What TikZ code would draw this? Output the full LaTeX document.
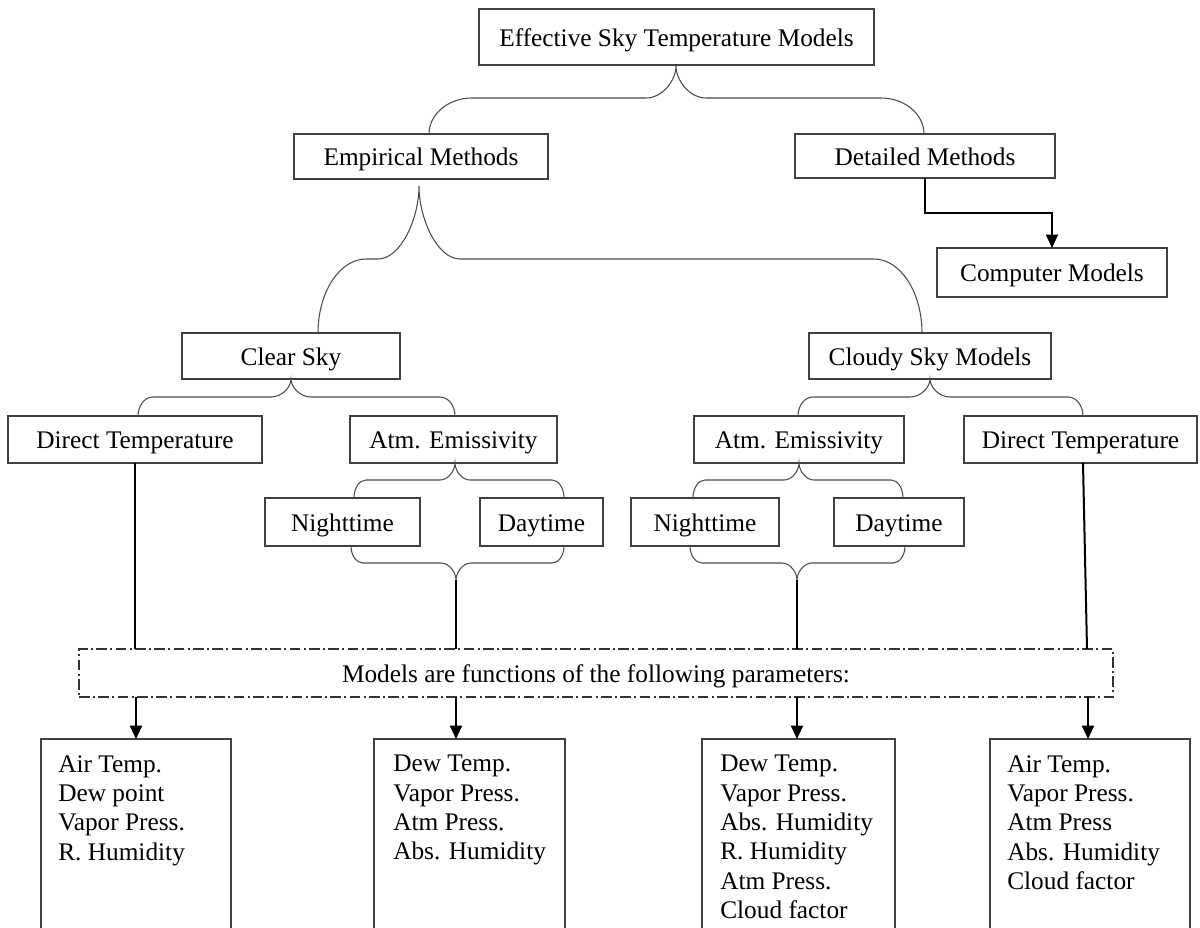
\documentclass[tikz,border=0pt]{standalone}
\usepackage{fontspec}
\setmainfont{Liberation Serif}
\usetikzlibrary{arrows.meta}
% #1 cx, #2 cy (cusp), #3 ym (horizontal level), #4 lx, #5 rx, #6 ey (ends), #7 cusp half width, #8 end corner width
\newcommand{\brc}[8]{\draw[brace]
 (#4,#6) .. controls (#4,{#3+0.45*(#6-#3)}) and ({#4+0.45*#8},#3) .. ({#4+#8},#3)
 -- ({#1-#7},#3) .. controls ({#1-0.45*#7},#3) and (#1,{#2+0.45*(#3-#2)}) .. (#1,#2)
 .. controls (#1,{#2+0.45*(#3-#2)}) and ({#1+0.45*#7},#3) .. ({#1+#7},#3)
 -- ({#5-#8},#3) .. controls ({#5-0.45*#8},#3) and (#5,{#3+0.45*(#6-#3)}) .. (#5,#6);}
% box: #1 style, #2 name, #3 x1, #4 y1, #5 x2, #6 y2, #7 text
\newcommand{\bx}[7]{\node[#1, minimum width={(#5-#3)*0.75pt}, minimum height={(#6-#4)*0.75pt}]
 (#2) at ({(#3+#5)/2},{(#4+#6)/2}) {#7};}
\begin{document}
\begin{tikzpicture}[x=0.75pt,y=-0.75pt, font=\fontsize{19}{22}\selectfont,
  box/.style={draw=black!75, line width=0.8pt, inner sep=0pt, outer sep=0pt, text height=16pt, text depth=2.5pt},
  brace/.style={draw=black!70, line width=0.8pt},
  thk/.style={draw=black, line width=1.5pt},
  arr/.style={thk, -{Triangle[length=10pt,width=9pt]}},
  dashbox/.style={draw=black!80, line width=0.8pt, dash pattern=on 8pt off 2.5pt on 1.5pt off 2.5pt, inner sep=0pt, outer sep=0pt, text height=16pt, text depth=2.5pt},
  txt/.style={align=left, anchor=north west, inner sep=0pt}]
\useasboundingbox (0,0) rectangle (1200,928);
\clip (0,0) rectangle (1200,928);

\bx{box}{top}{479}{9}{874}{65}{Effective Sky Temperature Models}
\bx{box}{emp}{294}{134}{548}{179}{Empirical Methods}
\bx{box}{det}{795}{134}{1055}{178}{Detailed Methods}
\bx{box}{comp}{937}{248}{1167}{297}{Computer Models}
\bx{box}{clear}{182}{333}{400}{379}{Clear Sky}
\bx{box}{cloudy}{809}{333}{1051}{379}{Cloudy Sky Models}
\bx{box}{dtl}{8}{416}{262}{463}{Direct Temperature}
\bx{box}{atl}{350}{416}{557}{463}{Atm. Emissivity}
\bx{box}{atr}{694}{416}{904}{463}{Atm. Emissivity}
\bx{box}{dtr}{964}{416}{1197}{463}{Direct Temperature}
\bx{box}{ntl}{265}{498}{420}{546}{Nighttime}
\bx{box}{dyl}{480}{498}{603}{546}{Daytime}
\bx{box}{ntr}{631}{498}{779}{546}{Nighttime}
\bx{box}{dyr}{834}{498}{964}{546}{Daytime}
\bx{dashbox}{dash}{79}{649}{1113}{697}{Models are functions of the following parameters:}
\bx{box}{b1}{41}{739}{231}{945}{}
\bx{box}{b2}{374}{739}{565}{945}{}
\bx{box}{b3}{702}{739}{895}{945}{}
\bx{box}{b4}{990}{739}{1190}{945}{}
\node[txt] (t1) at (58,755) {Air Temp.\\Dew point\\Vapor Press.\\R. Humidity};
\node[txt] (t2) at (393,755) {Dew Temp.\\Vapor Press.\\Atm Press.\\Abs. Humidity};
\node[txt] (t3) at (720,755) {Dew Temp.\\Vapor Press.\\Abs. Humidity\\R. Humidity\\Atm Press.\\Cloud factor};
\node[txt] (t4) at (1007,755) {Air Temp.\\Vapor Press.\\Atm Press\\Abs. Humidity\\Cloud factor};

% braces
\brc{676}{66}{98}{429}{924}{134}{30}{43}
\brc{419}{186}{259}{318}{922}{333}{41}{48}
\brc{291}{379}{397}{138}{455}{416}{20}{15}
\brc{930}{379}{397}{798}{1083}{416}{20}{15}
\brc{455}{463}{480}{354}{564}{498}{15}{12}
\brc{799}{463}{480}{693}{903}{498}{15}{12}
\brc{456}{580}{563}{351}{564}{546}{15}{12}
\brc{797}{580}{563}{690}{905}{546}{15}{12}
\coordinate (cl) at (456,580);
\coordinate (cr) at (797,580);

% connectors
\draw[arr] (det.south) -- (det.south |- 0,213) -- (comp.north |- 0,213) -- (comp.north);
\draw[thk] (dtl.south) -- (dtl.south |- dash.north);
\draw[thk] (cl) -- (cl |- dash.north);
\draw[thk] (cr) -- (cr |- dash.north);
\draw[thk] (1083,0 |- dtr.south) -- (1087,0 |- dash.north);
\draw[arr] (dash.south -| b1.north) -- (b1.north);
\draw[arr] (cl |- dash.south) -- (cl |- b2.north);
\draw[arr] (cr |- dash.south) -- (cr |- b3.north);
\draw[arr] (1088,0 |- dash.south) -- (1088,0 |- b4.north);
\end{tikzpicture}
\end{document}
